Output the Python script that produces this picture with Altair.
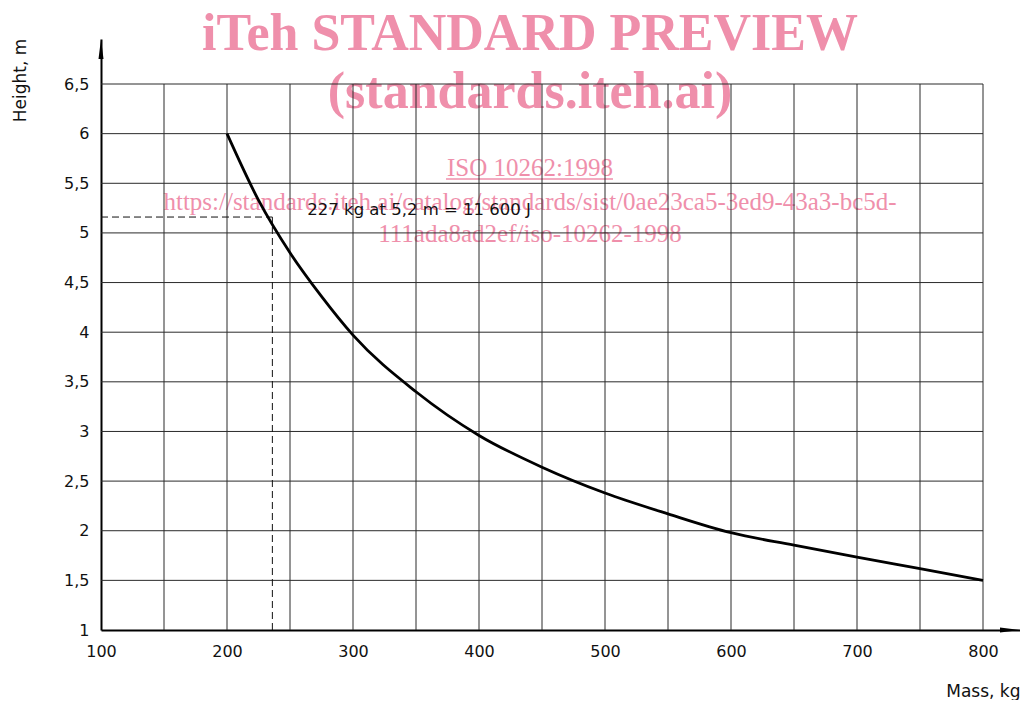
import altair as alt
import pandas as pd

# ---- data ----
mass = [200, 225, 250, 275, 300, 350, 400, 450, 500, 550, 600, 650, 700, 750, 800]
height = [6.0, 5.33, 4.8, 4.36, 3.97, 3.40, 2.96, 2.64, 2.38, 2.17, 1.98, 1.855, 1.735, 1.618, 1.5]

x_ticks = [100, 200, 300, 400, 500, 600, 700, 800]
y_ticks = [1, 1.5, 2, 2.5, 3, 3.5, 4, 4.5, 5, 5.5, 6, 6.5]
x_grid = [150, 200, 250, 300, 350, 400, 450, 500, 550, 600, 650, 700, 750, 800]
y_grid = [1.5, 2, 2.5, 3, 3.5, 4, 4.5, 5, 5.5, 6, 6.5]

mark_mass = [236]
mark_height = [5.16]
annotation = ["227 kg at 5,2 m = 11 600 J"]

x_title = "Mass, kg"
y_title = "Height, m"

wm_lines = ["iTeh STANDARD PREVIEW", "(standards.iteh.ai)"]
wm_iso = "ISO 10262:1998"
wm_url = ["https://standards.iteh.ai/catalog/standards/sist/0ae23ca5-3ed9-43a3-bc5d-",
          "111ada8ad2ef/iso-10262-1998"]

# ---- layout ----
W, H = 919, 591
x_domain = [100, 100 + W / 1.26]
y_domain = [1, 1 + H / 99.27]
FONT = "DejaVu Sans"
PINK = "#ef8fab"

xs = alt.Scale(domain=x_domain, nice=False, zero=False)
ys = alt.Scale(domain=y_domain, nice=False, zero=False)

x_axis = alt.Axis(
    values=x_ticks, format="d", ticks=False, grid=False, labelFlush=False,
    labelFont=FONT, labelFontSize=16, labelColor="#111", labelPadding=13,
    domainColor="black", domainWidth=2,
    title=x_title, titleFont=FONT, titleFontSize=17, titleFontWeight="normal",
    titleColor="#111", titleAnchor="end", titleAlign="right", titleBaseline="middle",
    titleX=W, titleY=61)
y_axis = alt.Axis(
    values=y_ticks, format="~g", labelExpr="replace(datum.label, '.', ',')",
    ticks=False, grid=False, labelFlush=False,
    labelFont=FONT, labelFontSize=16, labelColor="#111", labelPadding=12,
    domainColor="black", domainWidth=2,
    title=y_title, titleFont=FONT, titleFontSize=17, titleFontWeight="normal",
    titleColor="#111", titleAngle=270, titleAlign="center", titleBaseline="middle",
    titleX=-81, titleY=41)

def X(f):
    return alt.X(f, scale=xs, axis=x_axis)

def Y(f):
    return alt.Y(f, scale=ys, axis=y_axis)

one = pd.DataFrame({"a": [0]})

# watermark
def wm_text(txt, y, size, bold):
    return alt.Chart(one).mark_text(
        text=txt, font="Liberation Serif", fontSize=size,
        fontWeight="bold" if bold else "normal", color=PINK,
        align="center", baseline="alphabetic",
    ).encode(x=alt.value(429), y=alt.value(y))

watermark = [
    wm_text(wm_lines[0], 11, 52, True),
    wm_text(wm_lines[1], 69, 52, True),
    wm_text(wm_iso, 137, 25, False),
    wm_text(wm_url[0], 171, 25, False),
    wm_text(wm_url[1], 203, 25, False),
    alt.Chart(one).mark_rule(color=PINK, strokeWidth=1.5).encode(
        x=alt.value(345), x2=alt.value(512), y=alt.value(140)),
]

# curve (carries the axes)
curve = alt.Chart(pd.DataFrame({"mass": mass, "height": height})).mark_line(
    color="black", strokeWidth=2.8, interpolate="monotone").encode(
    x=X("mass:Q"), y=Y("height:Q"))

# grid
vgrid = alt.Chart(pd.DataFrame({"gx": x_grid, "y0": y_ticks[0], "y1": y_ticks[-1]})).mark_rule(
    color="#2a2a2a", strokeWidth=1).encode(x=X("gx:Q"), y=Y("y0:Q"), y2="y1:Q")
hgrid = alt.Chart(pd.DataFrame({"gy": y_grid, "x0": x_ticks[0], "x1": x_ticks[-1]})).mark_rule(
    color="#2a2a2a", strokeWidth=1).encode(y=Y("gy:Q"), x=X("x0:Q"), x2="x1:Q")

# dashed reference lines
mk = pd.DataFrame({"m": mark_mass, "h": mark_height, "x0": x_ticks[0], "y0": y_ticks[0],
                   "t": annotation})
dash_h = alt.Chart(mk).mark_rule(color="#111", strokeWidth=1, strokeDash=[7, 4]).encode(
    x=X("x0:Q"), x2="m:Q", y=Y("h:Q"))
dash_v = alt.Chart(mk).mark_rule(color="#111", strokeWidth=1, strokeDash=[7, 4]).encode(
    x=X("m:Q"), y=Y("y0:Q"), y2="h:Q")
ann = alt.Chart(mk).mark_text(align="left", baseline="middle", dx=35, dy=-7,
                              font=FONT, fontSize=16.5, color="#111").encode(
    x=X("m:Q"), y=Y("h:Q"), text="t:N")

# arrow heads
ARROW = "M0,-1L0.25,1L-0.25,1Z"
arrow_y = alt.Chart(one).mark_point(shape=ARROW, filled=True, color="black", size=400,
                                    opacity=1, strokeWidth=0).encode(
    x=alt.value(0), y=alt.value(10))
arrow_x = alt.Chart(one).mark_point(shape=ARROW, filled=True, color="black", size=400,
                                    opacity=1, strokeWidth=0).encode(
    x=alt.value(W - 10), y=alt.value(H), angle=alt.value(90))

chart = alt.layer(*watermark, vgrid, hgrid, dash_h, dash_v, curve, ann, arrow_y, arrow_x).properties(
    width=W, height=H,
    autosize=alt.AutoSizeParams(type="none"),
    padding={"left": 93, "top": 31, "right": 0, "bottom": 70},
    background="white",
).configure_view(stroke=None)

chart.save("out.html", embed_options={"renderer": "svg", "actions": False})
